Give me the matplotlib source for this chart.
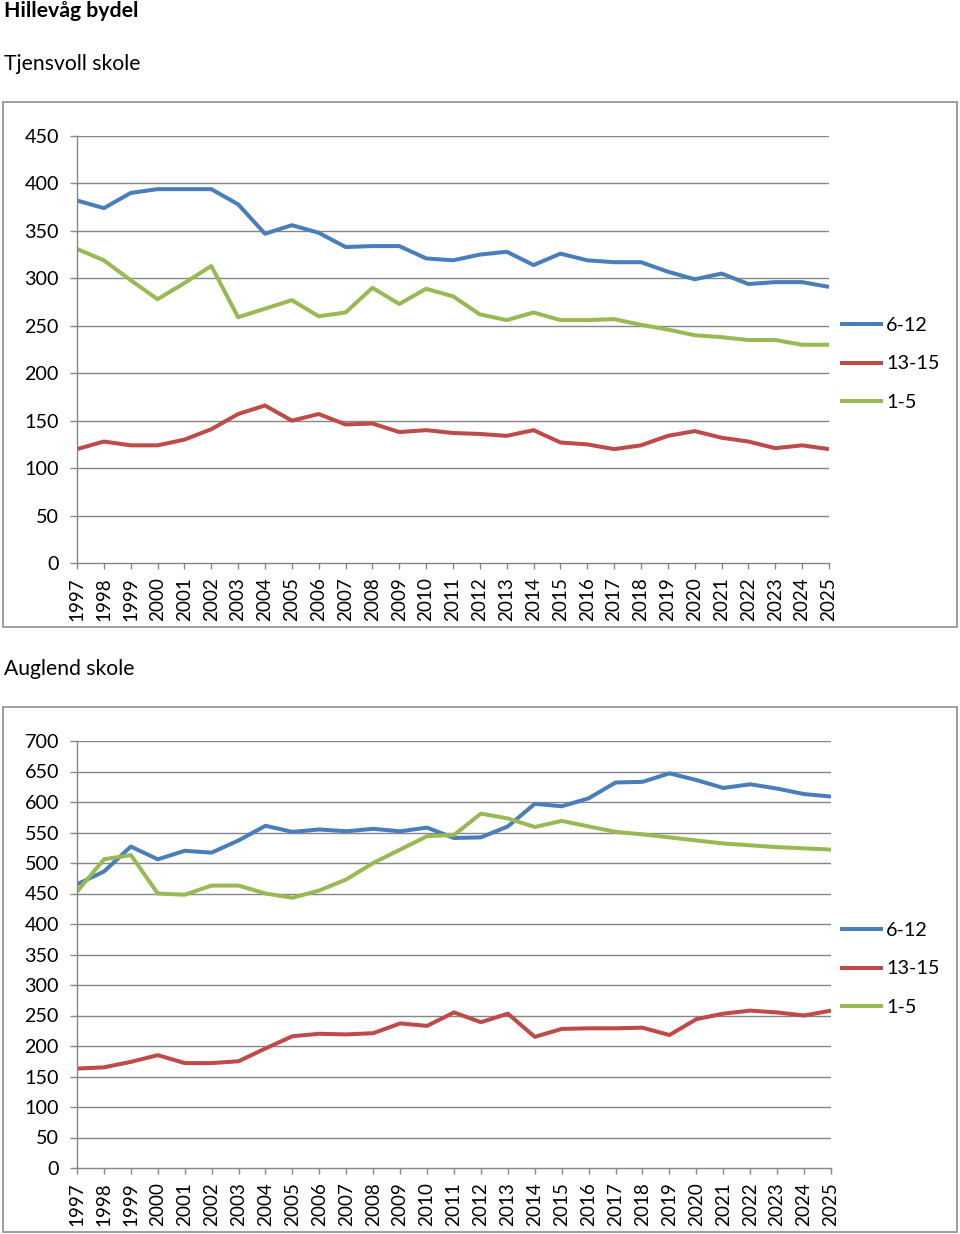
import matplotlib
matplotlib.use("Agg")
import matplotlib.pyplot as plt
from matplotlib.patches import Rectangle

# Data
years = list(range(1997, 2026))
year_labels = [str(y) for y in years]
series_names = ["6-12", "13-15", "1-5"]

tjensvoll_6_12 = [382, 374, 390, 394, 394, 394, 378, 347, 356, 348, 333, 334, 334, 321, 319,
                  325, 328, 314, 326, 319, 317, 317, 307, 299, 305, 294, 296, 296, 291]
tjensvoll_13_15 = [120, 128, 124, 124, 130, 141, 157, 166, 150, 157, 146, 147, 138, 140, 137,
                   136, 134, 140, 127, 125, 120, 124, 134, 139, 132, 128, 121, 124, 120]
tjensvoll_1_5 = [331, 319, 298, 278, 295, 313, 259, 268, 277, 260, 264, 290, 273, 289, 281,
                 262, 256, 264, 256, 256, 257, 251, 246, 240, 238, 235, 235, 230, 230]

auglend_6_12 = [465, 486, 527, 506, 520, 517, 537, 561, 551, 555, 552, 556, 552, 558, 541,
                542, 560, 597, 593, 606, 632, 633, 647, 636, 623, 629, 622, 613, 609]
auglend_13_15 = [163, 165, 174, 185, 172, 172, 175, 196, 216, 220, 219, 221, 237, 233, 255,
                 239, 253, 215, 228, 229, 229, 230, 218, 244, 253, 258, 255, 250, 258]
auglend_1_5 = [453, 506, 513, 450, 448, 463, 463, 450, 443, 455, 473, 500, 522, 544, 546,
               581, 573, 559, 569, 560, 551, 547, 542, 537, 532, 529, 526, 524, 522]

colors = ["#4A7EBB", "#BE4B48", "#98B954"]
grid_c = "#868686"
fs = 14.2

plt.rcParams["font.family"] = ["Lato", "DejaVu Sans"]

W, H = 960, 1234
fig = plt.figure(figsize=(W / 100, H / 100), dpi=100)


def px_axes(left, top, right, bottom):
    return fig.add_axes([left / W, 1 - bottom / H, (right - left) / W, (bottom - top) / H])


def draw_chart(box, ax_box, data, ymax, step, legend_y):
    # chart area border
    x0, y0, x1, y1 = box
    fig.patches.append(Rectangle((x0 / W, 1 - y1 / H), (x1 - x0) / W, (y1 - y0) / H,
                                 transform=fig.transFigure, fill=False,
                                 edgecolor="#8e8e8e", linewidth=1.2))
    ax = px_axes(*ax_box)
    for vals, name, c in zip(data, series_names, colors):
        ax.plot(years, vals, color=c, lw=2.9, label=name, solid_capstyle="butt")
    ax.set_xlim(years[0], years[-1])
    ax.set_ylim(0, ymax)
    yt = list(range(0, ymax + 1, step))
    ax.set_yticks(yt)
    ax.set_xticks(years)
    ax.set_xticklabels(year_labels, rotation=90)
    for v in yt[1:]:
        ax.axhline(v, color=grid_c, lw=1.0, zorder=0)
    for s in ["top", "right"]:
        ax.spines[s].set_visible(False)
    for s in ["left", "bottom"]:
        ax.spines[s].set_color(grid_c)
        ax.spines[s].set_linewidth(1.0)
    ax.tick_params(axis="y", length=5, width=1, color=grid_c, pad=8, labelsize=fs)
    ax.tick_params(axis="x", length=4.5, width=1, color=grid_c, pad=6, labelsize=13.6)
    ax.legend(loc="center left", bbox_to_anchor=(840 / W, 1 - legend_y / H),
              bbox_transform=fig.transFigure, frameon=False, fontsize=fs,
              handlelength=2.2, handletextpad=0.15, labelspacing=1.08,
              borderpad=0, borderaxespad=0)
    return ax


fig.text(4 / W, 1 - 11 / H, "Hillevåg bydel", fontsize=15.3, fontweight="bold", va="center")
fig.text(4 / W, 1 - 64 / H, "Tjensvoll skole", fontsize=15.2, va="center")
fig.text(4 / W, 1 - 669 / H, "Auglend skole", fontsize=15.2, va="center")

draw_chart((3, 102, 957, 627), (77, 136, 829, 563),
           [tjensvoll_6_12, tjensvoll_13_15, tjensvoll_1_5], 450, 50, 364)
draw_chart((3, 707, 957, 1232), (77, 741, 831, 1168),
           [auglend_6_12, auglend_13_15, auglend_1_5], 700, 50, 969)

fig.savefig("out.png", dpi=100, facecolor="white")
